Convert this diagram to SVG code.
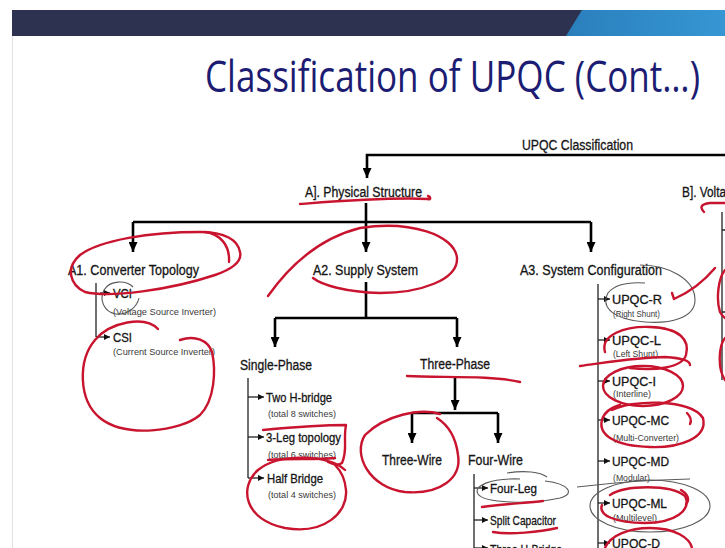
<svg xmlns="http://www.w3.org/2000/svg" width="725" height="548" viewBox="0 0 725 548">
<defs>
<style>
text{font-family:"Liberation Sans",Arial,sans-serif;fill:#151515}
.t{font-size:14px;stroke:#151515;stroke-width:0.3}
.i{font-size:13px;stroke:#151515;stroke-width:0.3}
.s{font-size:9px;fill:#3a3a3a}
.title{font-family:"Open Sans","Liberation Sans",sans-serif;font-size:44px;fill:#1c1c72}
.k{stroke:#000;stroke-width:2.6;fill:none}
.n{stroke:#222;stroke-width:1.3;fill:none}
.r{stroke:#c8142e;stroke-width:2.4;fill:none;stroke-linecap:round;stroke-linejoin:round}
.g{stroke:#5a5a5a;stroke-width:1.1;fill:none}
</style>
<marker id="ah" viewBox="0 0 10 9" refX="10" refY="4.5" markerWidth="10" markerHeight="9" markerUnits="userSpaceOnUse" orient="auto"><path d="M0,0L10,4.5L0,9z" fill="#000"/></marker>
<marker id="as" viewBox="0 0 6 6" refX="6" refY="3" markerWidth="6" markerHeight="6" markerUnits="userSpaceOnUse" orient="auto"><path d="M0,0L6,3L0,6z" fill="#111"/></marker>
<linearGradient id="bl" x1="0" x2="1" y1="0" y2="0"><stop offset="0" stop-color="#2a7fbb"/><stop offset="1" stop-color="#3696d3"/></linearGradient>
</defs>
<rect width="725" height="548" fill="#fff"/>
<g id="banner">
<rect x="12" y="10" width="713" height="26" fill="#2d3250"/>
<polygon points="582,10 725,10 725,36 566,36" fill="url(#bl)"/>
<line x1="12.5" y1="36" x2="12.5" y2="548" stroke="#e2e2e2" stroke-width="1"/>
</g>
<text id="title" class="title" x="205" y="92" textLength="495" lengthAdjust="spacingAndGlyphs">Classification of UPQC (Cont…)</text>

<g id="connectors">
<path class="k" d="M725,155H367V178" marker-end="url(#ah)"/>
<path class="k" d="M366,203V222"/>
<path class="k" d="M133,222H591"/>
<path class="k" d="M133,222V252" marker-end="url(#ah)"/>
<path class="k" d="M366,222V252" marker-end="url(#ah)"/>
<path class="k" d="M591,222V252" marker-end="url(#ah)"/>
<path class="k" d="M366,282V318"/>
<path class="k" d="M275,318H457"/>
<path class="k" d="M275,318V347" marker-end="url(#ah)"/>
<path class="k" d="M457,318V347" marker-end="url(#ah)"/>
<path class="k" d="M455,377V410" marker-end="url(#ah)"/>
<path class="k" d="M412,413H498"/>
<path class="k" d="M412,413V443" marker-end="url(#ah)"/>
<path class="k" d="M498,413V443" marker-end="url(#ah)"/>
<path class="n" d="M96,283V337"/>
<path class="n" d="M100,293H110" marker-end="url(#as)"/>
<path class="n" d="M96,337H110" marker-end="url(#as)"/>
<path class="n" d="M248,378V478"/>
<path class="n" d="M248,397H264" marker-end="url(#as)"/>
<path class="n" d="M248,437H264" marker-end="url(#as)"/>
<path class="n" d="M248,478H264" marker-end="url(#as)"/>
<path class="n" d="M474,474V548"/>
<path class="n" d="M474,488H488" marker-end="url(#as)"/>
<path class="n" d="M474,520H488" marker-end="url(#as)"/>
<path class="n" d="M474,548H488" marker-end="url(#as)"/>
<path class="n" d="M598,284V548"/>
<path class="n" d="M598,299H610" marker-end="url(#as)"/>
<path class="n" d="M598,340H610" marker-end="url(#as)"/>
<path class="n" d="M598,381H610" marker-end="url(#as)"/>
<path class="n" d="M598,420H610" marker-end="url(#as)"/>
<path class="n" d="M598,461H610" marker-end="url(#as)"/>
<path class="n" d="M598,503H610" marker-end="url(#as)"/>
<path class="n" d="M598,543H610" marker-end="url(#as)"/>
<path class="n" d="M722,212V380M722,230H725M722,312H725"/>
</g>

<g id="root"><text class="t" x="522" y="150" textLength="111" lengthAdjust="spacingAndGlyphs">UPQC Classification</text></g>
<g id="A"><text class="t" x="305" y="197" textLength="117" lengthAdjust="spacingAndGlyphs">A]. Physical Structure</text></g>
<g id="B"><text class="t" x="682" y="197" textLength="44" lengthAdjust="spacingAndGlyphs">B]. Volta</text></g>
<g id="A1"><text class="t" x="68" y="275" textLength="131" lengthAdjust="spacingAndGlyphs">A1. Converter Topology</text></g>
<g id="A2"><text class="t" x="313" y="275" textLength="105" lengthAdjust="spacingAndGlyphs">A2. Supply System</text></g>
<g id="A3"><text class="t" x="520" y="275" textLength="142" lengthAdjust="spacingAndGlyphs">A3. System Configuration</text></g>
<g id="VCI"><text class="i" x="113" y="298" textLength="19" lengthAdjust="spacingAndGlyphs">VCI</text><text class="s" x="113" y="315" textLength="103" lengthAdjust="spacingAndGlyphs">(Voltage Source Inverter)</text></g>
<g id="CSI"><text class="i" x="113" y="342" textLength="19" lengthAdjust="spacingAndGlyphs">CSI</text><text class="s" x="113" y="355" textLength="102" lengthAdjust="spacingAndGlyphs">(Current Source Inverter)</text></g>
<g id="single"><text class="t" x="240" y="370" textLength="72" lengthAdjust="spacingAndGlyphs">Single-Phase</text></g>
<g id="three"><text class="t" x="420" y="369" textLength="70" lengthAdjust="spacingAndGlyphs">Three-Phase</text></g>
<g id="twoH"><text class="i" x="266" y="402" textLength="66" lengthAdjust="spacingAndGlyphs">Two H-bridge</text><text class="s" x="268" y="417" textLength="68" lengthAdjust="spacingAndGlyphs">(total 8 switches)</text></g>
<g id="leg3"><text class="i" x="266" y="442" textLength="75" lengthAdjust="spacingAndGlyphs">3-Leg topology</text><text class="s" x="268" y="458" textLength="68" lengthAdjust="spacingAndGlyphs">(total 6 switches)</text></g>
<g id="half"><text class="i" x="267" y="483" textLength="56" lengthAdjust="spacingAndGlyphs">Half Bridge</text><text class="s" x="268" y="498" textLength="68" lengthAdjust="spacingAndGlyphs">(total 4 switches)</text></g>
<g id="wire3"><text class="t" x="382" y="465" textLength="60" lengthAdjust="spacingAndGlyphs">Three-Wire</text></g>
<g id="wire4"><text class="t" x="468" y="465" textLength="55" lengthAdjust="spacingAndGlyphs">Four-Wire</text></g>
<g id="fourleg"><text class="i" x="490" y="493" textLength="47" lengthAdjust="spacingAndGlyphs">Four-Leg</text></g>
<g id="split"><text class="i" x="490" y="525" textLength="66" lengthAdjust="spacingAndGlyphs">Split Capacitor</text></g>
<g id="threeH"><text class="i" x="490" y="554" textLength="72" lengthAdjust="spacingAndGlyphs">Three H-Bridge</text></g>
<g id="R"><text class="i" x="612" y="304" textLength="50" lengthAdjust="spacingAndGlyphs">UPQC-R</text><text class="s" x="613" y="317" textLength="47" lengthAdjust="spacingAndGlyphs">(Right Shunt)</text></g>
<g id="L"><text class="i" x="612" y="345" textLength="49" lengthAdjust="spacingAndGlyphs">UPQC-L</text><text class="s" x="613" y="357" textLength="45" lengthAdjust="spacingAndGlyphs">(Left Shunt)</text></g>
<g id="I"><text class="i" x="612" y="386" textLength="44" lengthAdjust="spacingAndGlyphs">UPQC-I</text><text class="s" x="613" y="397" textLength="38" lengthAdjust="spacingAndGlyphs">(Interline)</text></g>
<g id="MC"><text class="i" x="612" y="425" textLength="57" lengthAdjust="spacingAndGlyphs">UPQC-MC</text><text class="s" x="613" y="441" textLength="66" lengthAdjust="spacingAndGlyphs">(Multi-Converter)</text></g>
<g id="MD"><text class="i" x="612" y="466" textLength="57" lengthAdjust="spacingAndGlyphs">UPQC-MD</text><text class="s" x="613" y="481" textLength="37" lengthAdjust="spacingAndGlyphs">(Modular)</text></g>
<g id="ML"><text class="i" x="612" y="508" textLength="55" lengthAdjust="spacingAndGlyphs">UPQC-ML</text><text class="s" x="613" y="521" textLength="44" lengthAdjust="spacingAndGlyphs">(Multilevel)</text></g>
<g id="D"><text class="i" x="612" y="548" textLength="48" lengthAdjust="spacingAndGlyphs">UPQC-D</text></g>

<g id="pen-gray">
<path class="g" d="M133,287C126,280 110,280 104,290C99,300 104,312 116,314C128,315 137,307 139,298"/>
<path class="g" d="M640,265C670,265 695,280 695,300C695,318 670,324 645,322C615,320 600,308 608,293C615,284 630,282 645,283"/>
<path class="g" d="M507,473C525,470 540,472 547,477M520,479C490,478 473,486 478,494C484,503 530,505 560,498C575,494 570,484 545,481"/>
<path class="g" d="M577,487C610,483 640,480 690,479"/>
<ellipse class="g" cx="650" cy="506" rx="60" ry="26"/>
</g>
<g id="pen-red">
<path class="r" d="M300,204C340,201 390,197 428,199C431,200 431,197 428,196"/>
<path class="r" d="M240,252C238,240 225,232 200,232C150,232 100,240 80,255C65,268 70,285 85,292C110,298 170,290 215,275C235,268 242,260 240,252"/>
<path class="r" d="M205,232C220,234 230,245 229,262"/>
<path class="r" d="M268,296C290,265 320,238 360,228C410,220 455,235 457,258C458,280 420,293 380,293C345,292 322,285 313,278"/>
<path class="r" d="M158,329C145,315 110,322 95,340C78,360 78,400 100,418C125,438 180,432 200,415C215,400 216,370 212,352C208,340 195,335 180,340"/>
<path class="r" d="M407,376C440,378 490,375 520,382"/>
<path class="r" d="M440,414C420,408 385,415 365,435C352,455 370,488 405,492C440,495 462,478 458,455C456,438 448,425 437,418"/>
<path class="r" d="M263,430C295,427 325,425 346,425C343,440 348,450 342,463C338,466 332,464 328,462"/>
<path class="r" d="M268,460C290,458 315,460 335,458"/>
<path class="r" d="M345,470C330,455 280,452 258,470C238,488 245,520 285,528C325,535 348,512 346,490C345,478 340,470 335,465"/>
<path class="r" d="M482,507C505,504 525,503 543,501"/>
<path class="r" d="M493,532C510,535 540,532 557,528"/>
<path class="r" d="M672,293L674,299C690,292 705,280 715,268"/>
<path class="r" d="M704,212C700,208 700,204 710,203L725,203"/>
<path class="r" d="M725,270C718,278 716,300 720,312C722,316 725,318 725,318"/>
<path class="r" d="M725,338C719,345 717,368 725,380"/>
<path class="r" d="M605,352C600,335 625,326 650,327C680,328 690,340 686,355C682,368 655,371 630,368"/>
<path class="r" d="M580,366C610,362 640,357 665,357C685,358 690,362 690,365"/>
<ellipse class="r" cx="643" cy="386" rx="40" ry="20"/>
<path class="r" d="M612,410C630,400 690,398 703,418C708,438 680,448 650,447C615,446 598,435 602,420C604,412 610,408 620,405M687,413C690,416 692,420 690,424"/>
<path class="r" d="M610,495C625,485 670,484 685,496C692,510 675,523 645,523C615,523 598,515 602,505"/>
<path class="r" d="M681,490C688,494 690,500 686,504"/>
<path class="r" d="M605,548C610,535 630,528 650,528C675,528 690,538 692,548"/>
</g>
</svg>
